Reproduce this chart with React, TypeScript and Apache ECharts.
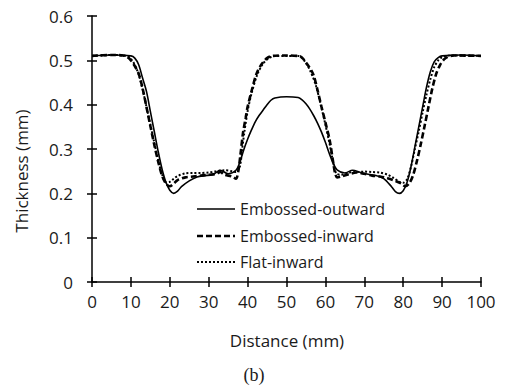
import React, { useEffect, useRef } from "react";
import * as echarts from "echarts";

// Embossed-outward (solid)
const outwardX = [0, 5, 10, 11, 12, 13, 14, 15, 16, 17, 18, 19, 20, 21, 22, 23, 25, 27, 29, 31, 33, 35, 37, 38, 39, 40, 41, 42, 43, 44, 45, 46, 47, 50, 53, 54, 55, 56, 57, 58, 59, 60, 61, 62, 63, 65, 67, 69, 71, 73, 75, 77, 78, 79, 80, 81, 82, 83, 84, 85, 86, 87, 88, 89, 90, 95, 100];
const outwardY = [0.51, 0.512, 0.51, 0.505, 0.49, 0.46, 0.43, 0.385, 0.34, 0.295, 0.255, 0.225, 0.207, 0.2, 0.205, 0.215, 0.228, 0.237, 0.24, 0.242, 0.252, 0.244, 0.252, 0.27, 0.298, 0.322, 0.343, 0.362, 0.376, 0.388, 0.4, 0.41, 0.415, 0.418, 0.416, 0.411, 0.402, 0.39, 0.375, 0.358, 0.338, 0.315, 0.29, 0.268, 0.253, 0.246, 0.252, 0.247, 0.243, 0.24, 0.233, 0.215, 0.204, 0.2, 0.206, 0.225, 0.26, 0.305, 0.35, 0.395, 0.44, 0.475, 0.497, 0.506, 0.51, 0.512, 0.51];

// Embossed-inward (dashed)
const inwardX = [0, 5, 8, 9, 10, 11, 12, 13, 14, 15, 16, 17, 18, 19, 20, 21, 22, 24, 26, 28, 30, 32, 33, 34, 36, 37, 37.6, 38.2, 38.8, 39.5, 40, 41, 42.3, 43.5, 45, 46.5, 50, 53.5, 55, 56.8, 58, 59, 60, 61.1, 62, 62.5, 63, 64, 66, 68, 70, 72, 74, 76, 78, 79.5, 80.5, 81.5, 82.5, 83.5, 84.5, 85.5, 86.5, 87.5, 88.5, 89.5, 90.5, 91.5, 93, 100];
const inwardY = [0.51, 0.512, 0.511, 0.508, 0.5, 0.487, 0.47, 0.437, 0.395, 0.352, 0.31, 0.272, 0.24, 0.222, 0.216, 0.222, 0.23, 0.236, 0.238, 0.24, 0.242, 0.244, 0.248, 0.242, 0.238, 0.233, 0.25, 0.29, 0.335, 0.37, 0.395, 0.43, 0.47, 0.49, 0.505, 0.51, 0.511, 0.509, 0.495, 0.47, 0.432, 0.395, 0.36, 0.32, 0.27, 0.245, 0.236, 0.238, 0.243, 0.247, 0.244, 0.24, 0.238, 0.234, 0.228, 0.222, 0.216, 0.222, 0.24, 0.272, 0.31, 0.352, 0.395, 0.437, 0.47, 0.49, 0.502, 0.508, 0.511, 0.51];

// Flat-inward (dotted)
const flatX = [0, 5, 9, 10, 11, 12, 13, 14, 15, 16, 17, 18, 19, 20, 21, 22, 24, 26, 28, 30, 32, 34, 36, 37, 38, 38.6, 39.2, 40, 41, 42.5, 44, 45.5, 47, 50, 53, 54.5, 56, 57.5, 58.8, 60, 61, 62, 62.8, 64, 66, 68, 70, 72, 74, 76, 77.5, 79, 80, 81, 82, 83, 84, 85, 86, 87, 88, 89, 90, 92, 100];
const flatY = [0.51, 0.512, 0.51, 0.503, 0.49, 0.468, 0.435, 0.395, 0.355, 0.315, 0.275, 0.243, 0.225, 0.226, 0.233, 0.239, 0.245, 0.246, 0.246, 0.247, 0.25, 0.252, 0.25, 0.248, 0.26, 0.3, 0.34, 0.385, 0.425, 0.468, 0.493, 0.505, 0.51, 0.51, 0.51, 0.5, 0.478, 0.445, 0.4, 0.355, 0.315, 0.27, 0.245, 0.242, 0.247, 0.248, 0.249, 0.248, 0.247, 0.242, 0.235, 0.226, 0.224, 0.232, 0.26, 0.3, 0.34, 0.383, 0.423, 0.458, 0.485, 0.5, 0.507, 0.511, 0.51];

const seriesNames = ["Embossed-outward", "Embossed-inward", "Flat-inward"];
const xTitle = "Distance (mm)";
const yTitle = "Thickness (mm)";
const caption = "(b)";

const FONT = "Open Sans";
const TXT = "#1a1a1a";

const lineStyles = [
  { color: "#000", width: 1.6, type: "solid" as any },
  { color: "#000", width: 2.6, type: [6, 3] as any },
  { color: "#000", width: 2, type: [2, 2] as any },
];

function pairs(xs: number[], ys: number[]) {
  return xs.map((x, i) => [x, ys[i]]);
}

export default function App() {
  const ref = useRef<HTMLDivElement>(null);
  useEffect(() => {
    if (!ref.current) return;
    const chart = echarts.init(ref.current, undefined, { renderer: "svg" });
    const axisLine = { show: true, lineStyle: { color: "#000", width: 1.5 } };
    const xBase = { type: "value", min: 0, max: 100, interval: 10, position: "bottom", splitLine: { show: false } };
    const yBase = { type: "value", min: 0, max: 0.6, interval: 0.1, position: "left", splitLine: { show: false } };
    const legendRows = [209, 236, 262];
    const legendGraphics: any[] = [];
    seriesNames.forEach((name, i) => {
      const s = lineStyles[i];
      legendGraphics.push({
        type: "line",
        shape: { x1: 197, y1: legendRows[i], x2: 235, y2: legendRows[i] },
        style: { stroke: s.color, lineWidth: s.width, lineDash: s.type === "solid" ? null : s.type },
      });
      legendGraphics.push({
        type: "text",
        x: 240,
        y: legendRows[i],
        style: { text: name, fontFamily: FONT, fontSize: 16, fill: TXT, textAlign: "left", textVerticalAlign: "middle" },
      });
    });
    chart.setOption({
      animation: false,
      backgroundColor: "#fff",
      textStyle: { fontFamily: FONT },
      grid: { left: 92, right: 24, top: 16, bottom: 107, containLabel: false },
      xAxis: [
        {
          ...xBase,
          axisLine,
          axisTick: { show: true, inside: false, length: 5, lineStyle: { color: "#000", width: 1.5 } },
          axisLabel: { fontFamily: FONT, fontSize: 17, color: TXT, margin: 11 },
        },
        {
          ...xBase,
          axisLine: { show: false },
          axisTick: { show: true, inside: true, length: 5, lineStyle: { color: "#000", width: 1.5 } },
          axisLabel: { show: false },
        },
      ],
      yAxis: [
        {
          ...yBase,
          axisLine,
          axisTick: { show: true, inside: false, length: 5, lineStyle: { color: "#000", width: 1.5 } },
          axisLabel: { fontFamily: FONT, fontSize: 17, color: TXT, margin: 19 },
        },
        {
          ...yBase,
          axisLine: { show: false },
          axisTick: { show: true, inside: true, length: 5, lineStyle: { color: "#000", width: 1.5 } },
          axisLabel: { show: false },
        },
      ],
      graphic: [
        {
          type: "text",
          x: 287,
          y: 340,
          style: { text: xTitle, fontFamily: FONT, fontSize: 17, fill: TXT, textAlign: "center", textVerticalAlign: "middle" },
        },
        {
          type: "text",
          x: 21,
          y: 171,
          rotation: Math.PI / 2,
          style: { text: yTitle, fontFamily: FONT, fontSize: 17, fill: TXT, textAlign: "center", textVerticalAlign: "middle" },
        },
        {
          type: "text",
          x: 254,
          y: 375,
          style: { text: caption, fontFamily: "Liberation Serif", fontSize: 18, fill: TXT, textAlign: "center", textVerticalAlign: "middle" },
        },
        ...legendGraphics,
      ],
      series: seriesNames.map((name, i) => ({
        name,
        type: "line",
        data: [pairs(outwardX, outwardY), pairs(inwardX, inwardY), pairs(flatX, flatY)][i],
        smooth: 0.3,
        symbol: "none",
        lineStyle: lineStyles[i],
      })),
    });
    return () => chart.dispose();
  }, []);
  return <div ref={ref} style={{ width: 505, height: 389, position: "absolute", left: 0, top: 0 }} />;
}
